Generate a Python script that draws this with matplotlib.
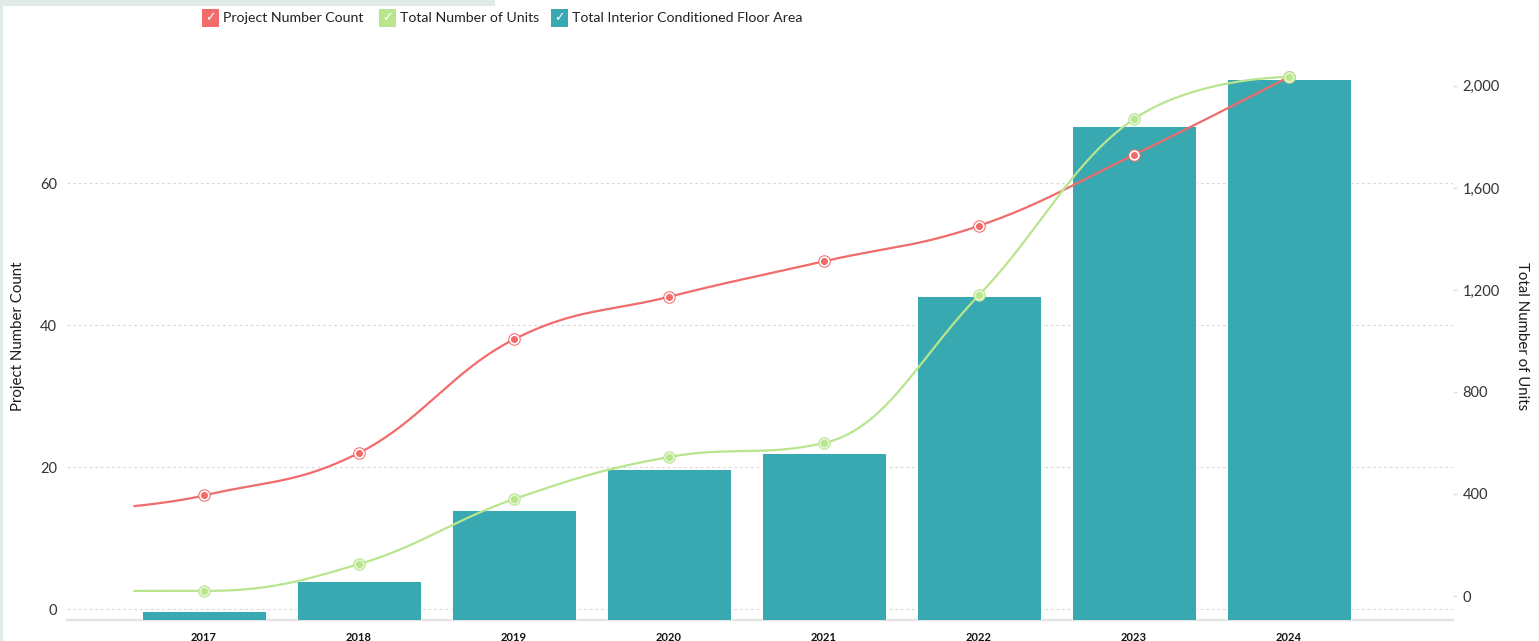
"""
Wykres: liczba projektów, liczba lokali i powierzchnia (słupki) w latach 2017-2024
"""

import matplotlib
matplotlib.use("Agg")
import matplotlib.pyplot as plt
from matplotlib.patches import Rectangle
from matplotlib.ticker import FuncFormatter
import numpy as np

# Dane
years = ["2017", "2018", "2019", "2020", "2021", "2022", "2023", "2024"]
project_count = [16, 22, 38, 44, 49, 54, 64, 75]
total_units = [20, 125, 380, 545, 600, 1180, 1870, 2035]
floor_area = [18000, 78000, 220000, 302000, 334000, 648000, 988000, 1082000]
# początek linii (przed pierwszym punktem)
project_start = 14.5
units_start = 20

series_names = ["Project Number Count", "Total Number of Units",
                "Total Interior Conditioned Floor Area"]
left_ticks = [0, 20, 40, 60]
right_ticks = [0, 400, 800, 1200, 1600, 2000]

RED = "#f26b6b"
GREEN = "#b8e58e"
TEAL = "#38a9b0"
W, H = 1539, 641

plt.rcParams["font.family"] = ["Lato", "DejaVu Sans"]


def spline_xy(xs, ys, n=40):
    """Krzywa gładka w stylu Highcharts (bezier z punktami kontrolnymi)"""
    xs = np.asarray(xs, float)
    ys = np.asarray(ys, float)
    m = len(xs)
    lc = np.column_stack([xs, ys])
    rc = lc.copy()
    for i in range(1, m - 1):
        px, py = xs[i], ys[i]
        lx, ly = xs[i - 1], ys[i - 1]
        nx, ny = xs[i + 1], ys[i + 1]
        lcx = (1.5 * px + lx) / 2.5
        lcy = (1.5 * py + ly) / 2.5
        rcx = (1.5 * px + nx) / 2.5
        rcy = (1.5 * py + ny) / 2.5
        corr = (rcy - lcy) * (rcx - px) / (rcx - lcx) + py - rcy
        lcy += corr
        rcy += corr
        if lcy > ly and lcy > py:
            lcy = max(ly, py)
            rcy = 2 * py - lcy
        elif lcy < ly and lcy < py:
            lcy = min(ly, py)
            rcy = 2 * py - lcy
        if rcy > ny and rcy > py:
            rcy = max(ny, py)
            lcy = 2 * py - rcy
        elif rcy < ny and rcy < py:
            rcy = min(ny, py)
            lcy = 2 * py - rcy
        lc[i] = lcx, lcy
        rc[i] = rcx, rcy
    t = np.linspace(0, 1, n)[:, None]
    pts = []
    for i in range(m - 1):
        p0 = np.array([xs[i], ys[i]])
        p3 = np.array([xs[i + 1], ys[i + 1]])
        seg = ((1 - t) ** 3 * p0 + 3 * (1 - t) ** 2 * t * rc[i]
               + 3 * (1 - t) * t ** 2 * lc[i + 1] + t ** 3 * p3)
        pts.append(seg if i == 0 else seg[1:])
    pts = np.vstack(pts)
    return pts[:, 0], pts[:, 1]


fig = plt.figure(figsize=(W / 100, H / 100), dpi=100)
fig.patch.set_facecolor("white")

# tło: pasek u góry i z lewej
fig.add_artist(Rectangle((0, 1 - 6 / H), 495 / W, 6 / H, transform=fig.transFigure,
                         facecolor="#e1e9e9", edgecolor="none"))
fig.add_artist(Rectangle((0, 0), 3 / W, 1, transform=fig.transFigure,
                         facecolor="#e1e9e9", edgecolor="none"))

pos = [67 / W, 1 - 620 / H, (1453 - 67) / W, (620 - 42) / H]
ax = fig.add_axes(pos)
ax_bar = ax.twinx()
ax_red = ax.twinx()
ax_right = ax.twinx()

x = np.arange(len(years))
lead_x = -0.45

# słupki
ax_bar.bar(x, floor_area, width=0.8, color=TEAL, edgecolor="white", linewidth=0.7)
ax_bar.set_ylim(0, 1156000)

# linia: liczba projektów
cx, cy = spline_xy(np.r_[lead_x, x], np.r_[project_start, project_count])
ax_red.plot(cx, cy, color=RED, lw=1.6, solid_capstyle="round")
ax_red.plot(x, project_count, "o", ms=9, mfc=RED, mec=RED, mew=0)
ax_red.plot(x, project_count, "o", ms=6.3, mfc=RED, mec="white", mew=1.2)
ax_red.set_ylim(-1.55, 79.9)

# linia: liczba lokali
gx, gy = spline_xy(np.r_[lead_x, x], np.r_[units_start, total_units])
ax_right.plot(gx, gy, color=GREEN, lw=1.6, solid_capstyle="round")
ax_right.plot(x, total_units, "o", ms=9, mfc=GREEN, mec=GREEN, mew=0)
ax_right.plot(x, total_units, "o", ms=6.3, mfc=GREEN, mec="#e4f5d2", mew=1.2)
ax_right.set_ylim(-94, 2172)

# oś lewa
ax.set_ylim(-1.55, 79.9)
ax.set_xlim(-0.884, 8.058)
ax.set_yticks(left_ticks)
ax.tick_params(axis="y", length=0, pad=7, labelsize=10.5, labelcolor="#333333")
ax.grid(axis="y", color="#d9d9d9", linestyle=(0, (2.5, 2.5)), linewidth=0.8)
ax.set_axisbelow(True)
ax.set_xticks(x)
ax.set_xticklabels(years, fontweight="bold", fontsize=8, color="#111111")
ax.tick_params(axis="x", length=0, pad=8.5)

# oś prawa
ax_right.set_yticks(right_ticks)
ax_right.yaxis.set_major_formatter(FuncFormatter(lambda v, p: f"{int(v):,}"))
ax_right.tick_params(axis="y", length=3, width=1, color="#e0e0e0", pad=4,
                     labelsize=10.5, labelcolor="#333333")

for a in (ax_bar, ax_red):
    a.set_yticks([])

for a in (ax, ax_bar, ax_red, ax_right):
    for s in a.spines.values():
        s.set_visible(False)
ax.spines["bottom"].set_visible(True)
ax.spines["bottom"].set_color("#e3e3e3")
ax.spines["bottom"].set_linewidth(1.6)

# tytuły osi
fig.text(18 / W, 1 - 336 / H, series_names[0], rotation=90, ha="center", va="center",
         fontsize=10.8, color="#1a1a1a")
fig.text(1522 / W, 1 - 336 / H, series_names[1], rotation=270, ha="center", va="center",
         fontsize=10.8, color="#1a1a1a")

# legenda
legend_x = [202, 379, 551]
legend_colors = [RED, GREEN, TEAL]
for lx, col, name in zip(legend_x, legend_colors, series_names):
    fig.add_artist(Rectangle((lx / W, 1 - 27 / H), 17 / W, 18 / H,
                             transform=fig.transFigure, facecolor=col, edgecolor="none"))
    fig.text((lx + 8.5) / W, 1 - 18 / H, "\u2713", ha="center", va="center",
             fontsize=9, color="white", family=["DejaVu Sans"])
    fig.text((lx + 21) / W, 1 - 18 / H, name, ha="left", va="center",
             fontsize=10.2, color="#222222")

fig.savefig("out.png", dpi=100)
